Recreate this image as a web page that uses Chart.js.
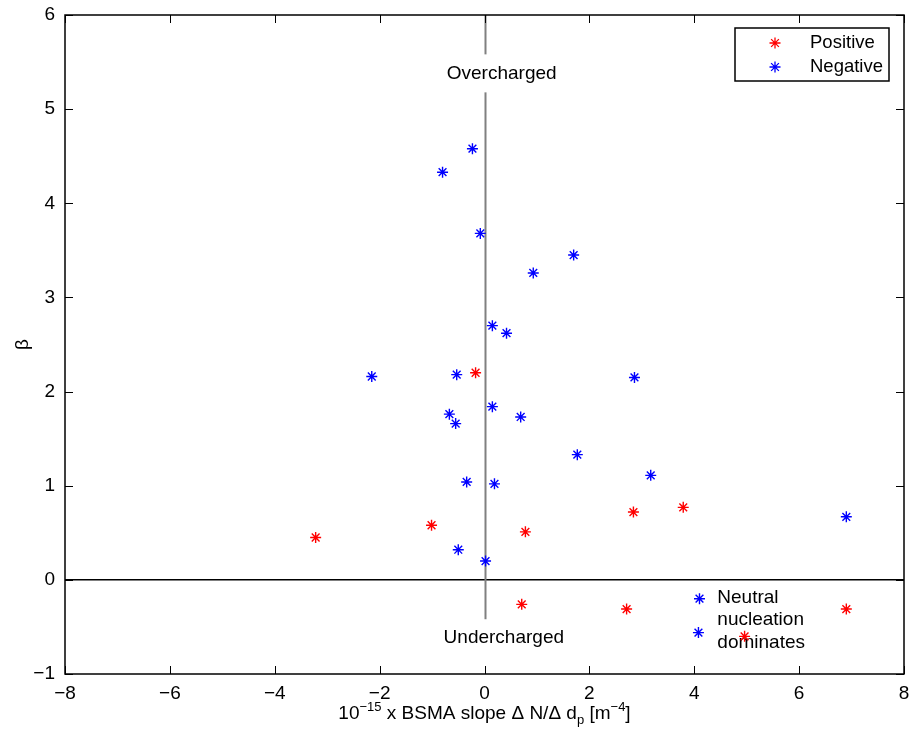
<!DOCTYPE html>
<html>
<head>
<meta charset="utf-8">
<script src="https://cdn.jsdelivr.net/npm/chart.js@4.4.0/dist/chart.umd.min.js"></script>
<style>
  body { margin: 0; background: #fff; }
  #wrap { width: 909px; height: 737px; }
</style>
</head>
<body>
<div id="wrap"><canvas id="myChart" width="909" height="737"></canvas></div>
<script>
// values
const posX = [-0.17, -3.22, -1.01, 0.78, 2.84, 3.79, 0.71, 2.71, 4.96, 6.90];
const posY = [2.20, 0.45, 0.58, 0.51, 0.72, 0.77, -0.26, -0.31, -0.60, -0.31];

const negX = [-0.23, -0.80, -0.08, 1.70, 0.93, 0.15, 0.42, -2.15, -0.53, 2.86, 0.15,
              -0.67, -0.55, 0.69, 1.77, 3.17, -0.34, 0.19, 6.90, -0.50, 0.02];
const negY = [4.58, 4.33, 3.68, 3.45, 3.26, 2.70, 2.62, 2.16, 2.18, 2.15, 1.84,
              1.76, 1.66, 1.73, 1.33, 1.11, 1.04, 1.02, 0.67, 0.32, 0.20];

// the two markers next to the "Neutral nucleation dominates" note
const neutralX = [4.10, 4.08];
const neutralY = [-0.20, -0.56];

const xTicks = [-8, -6, -4, -2, 0, 2, 4, 6, 8];
const yTicks = [-1, 0, 1, 2, 3, 4, 5, 6];

const legendLabels = ["Positive", "Negative"];
const FONT = "Liberation Sans, Arial, Helvetica, sans-serif";

function pts(xs, ys) {
  return xs.map((x, i) => ({ x: x, y: ys[i] }));
}

function star(ctx, x, y, r, color) {
  ctx.save();
  ctx.strokeStyle = color;
  ctx.lineWidth = 1.3;
  ctx.beginPath();
  for (let k = 0; k < 4; k++) {
    const a = k * Math.PI / 4;
    ctx.moveTo(x - Math.cos(a) * r, y - Math.sin(a) * r);
    ctx.lineTo(x + Math.cos(a) * r, y + Math.sin(a) * r);
  }
  ctx.stroke();
  ctx.restore();
}

// frame, inward ticks, reference lines, notes, legend, axis titles
const decor = {
  id: "decor",
  beforeDatasetsDraw(chart) {
    const ctx = chart.ctx, xs = chart.scales.x, ys = chart.scales.y;
    const a = chart.chartArea;
    ctx.save();
    // y = 0 line
    ctx.strokeStyle = "#000";
    ctx.lineWidth = 1.5;
    ctx.beginPath();
    ctx.moveTo(a.left, ys.getPixelForValue(0));
    ctx.lineTo(a.right, ys.getPixelForValue(0));
    ctx.stroke();
    // x = 0 line
    ctx.strokeStyle = "#808080";
    ctx.lineWidth = 2;
    ctx.beginPath();
    ctx.moveTo(xs.getPixelForValue(0) + 1, ys.getPixelForValue(6));
    ctx.lineTo(xs.getPixelForValue(0) + 1, ys.getPixelForValue(-0.45));
    ctx.stroke();
    // notes
    ctx.font = "19px " + FONT;
    ctx.textBaseline = "middle";
    ctx.textAlign = "left";
    const notes = [["Overcharged", -0.72, 5.38, true], ["Undercharged", -0.78, -0.62, true]];
    notes.forEach(n => {
      const px = xs.getPixelForValue(n[1]), py = ys.getPixelForValue(n[2]);
      const w = ctx.measureText(n[0]).width;
      if (n[3]) {
        ctx.fillStyle = "#fff";
        ctx.fillRect(px - 4, py - 19, w + 8, 38);
      }
      ctx.fillStyle = "#000";
      ctx.fillText(n[0], px, py);
    });
    ["Neutral", "nucleation", "dominates"].forEach((t, i) => {
      ctx.fillText(t, xs.getPixelForValue(4.44), ys.getPixelForValue(-0.19) + i * 22.5);
    });
    ctx.restore();
  },
  afterDraw(chart) {
    const ctx = chart.ctx, xs = chart.scales.x, ys = chart.scales.y;
    const a = chart.chartArea;
    ctx.save();
    ctx.strokeStyle = "#000";
    ctx.lineWidth = 1.5;
    ctx.strokeRect(a.left, a.top, a.right - a.left, a.bottom - a.top);
    ctx.lineWidth = 1;
    ctx.beginPath();
    xTicks.forEach(v => {
      const px = Math.round(xs.getPixelForValue(v)) + 0.5;
      ctx.moveTo(px, a.bottom); ctx.lineTo(px, a.bottom - 8);
      ctx.moveTo(px, a.top); ctx.lineTo(px, a.top + 8);
    });
    yTicks.forEach(v => {
      const py = Math.round(ys.getPixelForValue(v)) + 0.5;
      ctx.moveTo(a.left, py); ctx.lineTo(a.left + 8, py);
      ctx.moveTo(a.right, py); ctx.lineTo(a.right - 8, py);
    });
    ctx.stroke();

    // legend
    ctx.fillStyle = "#fff";
    ctx.fillRect(735, 28, 154, 53);
    ctx.strokeStyle = "#000";
    ctx.lineWidth = 1.5;
    ctx.strokeRect(735, 28, 154, 53);
    ctx.font = "18.5px " + FONT;
    ctx.textBaseline = "middle";
    ctx.textAlign = "left";
    ctx.fillStyle = "#000";
    const cols = ["#ff0000", "#0000ff"];
    legendLabels.forEach((l, i) => {
      star(ctx, 775, 43 + i * 24, 5.5, cols[i]);
      ctx.fillText(l, 810, 43 + i * 24);
    });

    // x title with super/subscripts
    const base = 719, big = "19px " + FONT, small = "13px " + FONT;
    const parts = [["10", big, 0], ["\u221215", small, -8], [" x BSMA slope \u0394 N/\u0394 d", big, 0],
                   ["p", small, 5], [" [m", big, 0], ["\u22124", small, -8], ["]", big, 0]];
    let total = 0;
    parts.forEach(p => { ctx.font = p[1]; total += ctx.measureText(p[0]).width; });
    let cx = (a.left + a.right) / 2 - total / 2;
    ctx.textBaseline = "alphabetic";
    parts.forEach(p => {
      ctx.font = p[1];
      ctx.fillText(p[0], cx, base + p[2]);
      cx += ctx.measureText(p[0]).width;
    });

    // y title
    ctx.save();
    ctx.translate(23, (a.top + a.bottom) / 2);
    ctx.rotate(-Math.PI / 2);
    ctx.font = "19px " + FONT;
    ctx.textAlign = "center";
    ctx.textBaseline = "middle";
    ctx.fillText("\u03b2", 0, 0);
    ctx.restore();
    ctx.restore();
  }
};

const markerStyle = color => ({
  pointStyle: "star",
  pointRadius: 5.5,
  pointHoverRadius: 5.5,
  borderColor: color,
  backgroundColor: color,
  borderWidth: 1.4,
  showLine: false
});

const minus = v => String(v).replace("-", "\u2212");

new Chart(document.getElementById("myChart"), {
  type: "scatter",
  data: {
    datasets: [
      Object.assign({ label: legendLabels[0], data: pts(posX, posY) }, markerStyle("#ff0000")),
      Object.assign({ label: legendLabels[1], data: pts(negX, negY) }, markerStyle("#0000ff")),
      Object.assign({ label: "Neutral", data: pts(neutralX, neutralY) }, markerStyle("#0000ff"))
    ]
  },
  options: {
    responsive: false,
    devicePixelRatio: 1,
    animation: false,
    layout: { autoPadding: false, padding: { top: 15, right: 5, left: 0, bottom: 0 } },
    plugins: { legend: { display: false }, tooltip: { enabled: false } },
    scales: {
      x: {
        type: "linear", min: -8, max: 8,
        grid: { display: false, drawTicks: false },
        border: { display: false },
        ticks: { stepSize: 2, color: "#000", padding: 8, maxRotation: 0, font: { size: 19, family: FONT }, callback: minus },
        afterFit: s => { s.height = 63; s.paddingLeft = 0; s.paddingRight = 0; }
      },
      y: {
        type: "linear", min: -1, max: 6,
        grid: { display: false, drawTicks: false },
        border: { display: false },
        ticks: { stepSize: 1, color: "#000", padding: 10, font: { size: 19, family: FONT }, callback: minus },
        afterFit: s => { s.width = 65; s.paddingTop = 0; s.paddingBottom = 0; }
      }
    }
  },
  plugins: [decor]
});
</script>
</body>
</html>
